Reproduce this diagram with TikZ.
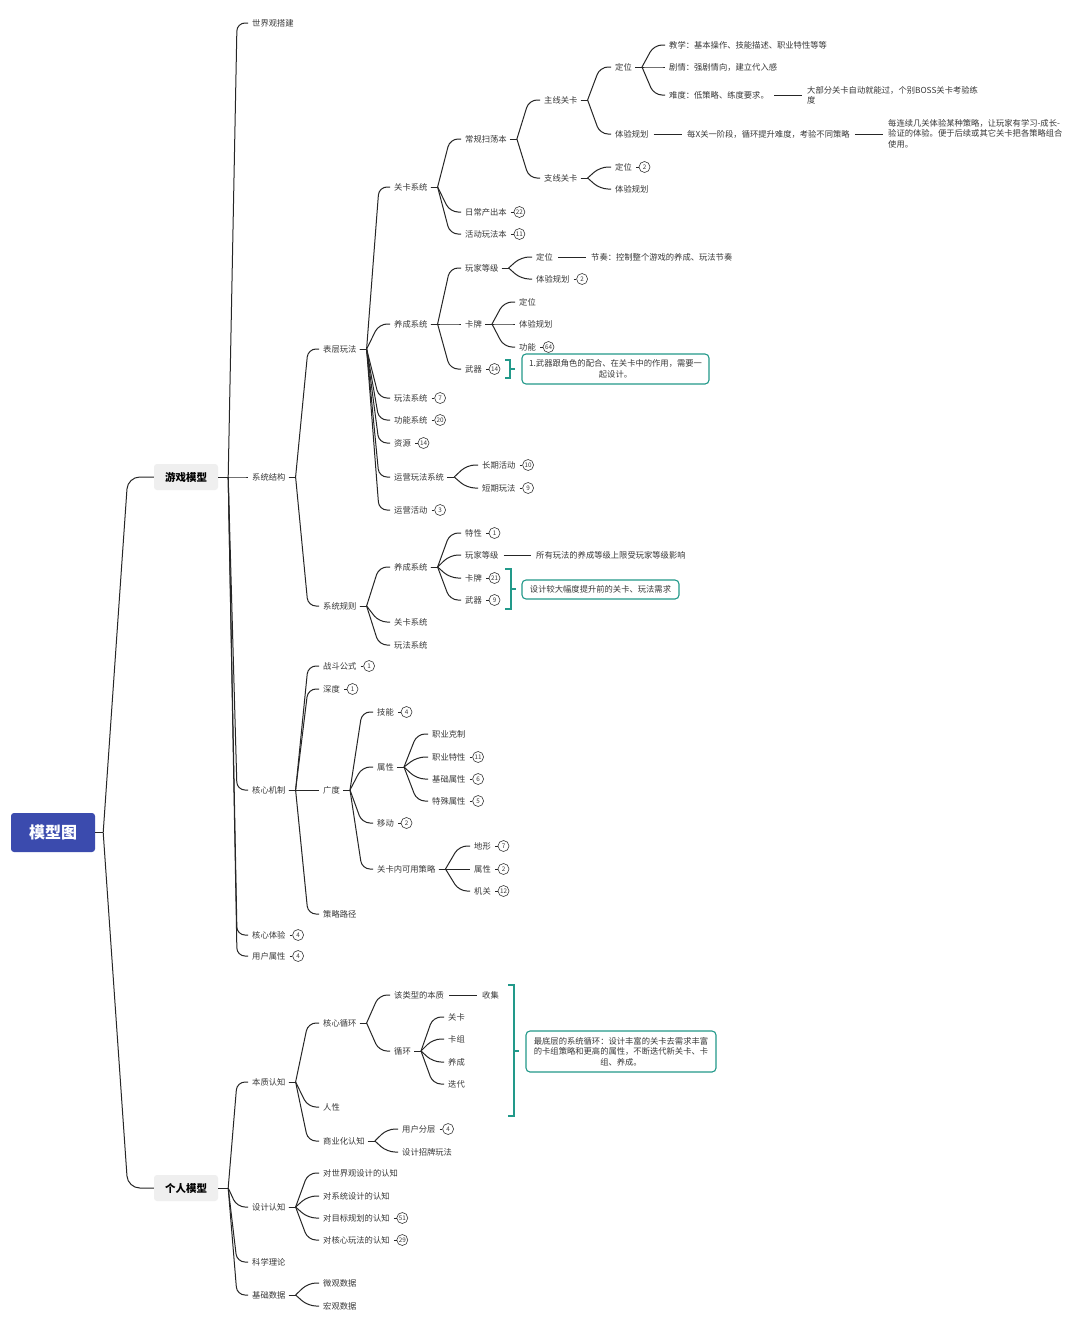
\documentclass[tikz,border=0pt]{standalone}
\usepackage{fontspec}
\setmainfont{Noto Sans CJK SC}
\usetikzlibrary{calc}
\definecolor{rootblue}{HTML}{3B4BAE}
\definecolor{txtc}{HTML}{383838}
\definecolor{linec}{HTML}{262626}
\definecolor{tealc}{HTML}{22998A}
\definecolor{boxgrey}{HTML}{EFEFEF}
\newcommand\mmlink[3][15]{%
 \draw[ln] let \p1=(#2.east) in (\x1+3,\y1) -- (\x1+10,\y1);
 \draw[ln,rounded corners=8] let \p1=(#2.east), \p2=(#3.west) in (\x1+10,\y1) -- (\x2-#1,\y2) -- (\x2-4,\y2);}
\newcommand\mmlinkb[2]{%
 \draw[ln] let \p1=(#1.east) in (\x1,\y1) -- (\x1+10,\y1);
 \draw[ln,rounded corners=8] let \p1=(#1.east), \p2=(#2.west) in (\x1+10,\y1) -- (\x2-15,\y2) -- (\x2-4,\y2);}
\newcommand\mmstr[2]{%
 \draw[ln] let \p1=(#1.east), \p2=(#2.west) in (\x1+5,\y1) -- (\x2-5,\y1);}
\newcommand\mmbadge[2]{%
 \node[bdg] (#1b) at ($(#1.east)+(12.5,0)$) {#2};
 \draw[ln,line width=0.8pt] ($(#1.east)+(4,0)$) -- (#1b.west);}
\begin{document}
\begin{tikzpicture}[x=1pt,y=-1pt,
 tx/.style={anchor=west,inner sep=0pt,text=txtc,font=\fontsize{8.3}{10.5}\selectfont},
 ln/.style={draw=linec,line width=1pt},
 brk/.style={draw=tealc,line width=1.1pt},
 bdg/.style={circle,draw=txtc,line width=0.6pt,minimum size=11pt,inner sep=0pt,fill=white,text=txtc,font=\fontsize{6.3}{7}\selectfont},
 callout/.style={draw=tealc,line width=1.1pt,rounded corners=4,fill=white,align=center,inner sep=2pt,text=txtc,font=\fontsize{8.3}{10.5}\selectfont},
 lvl1/.style={fill=boxgrey,rounded corners=3,minimum width=64pt,minimum height=26pt,inner sep=0pt,font=\bfseries\fontsize{10.5}{12}\selectfont,text=black}]
\fill[white] (0,0) rectangle (1080,1318);
\useasboundingbox (0,0) rectangle (1080,1318);

% root and level 1
\node[fill=rootblue,rounded corners=3,minimum width=84pt,minimum height=39pt,inner sep=0pt,text=white,font=\bfseries\fontsize{16}{18}\selectfont] (root) at (53,832.5) {模型图};
\node[lvl1] (gm) at (186,477) {游戏模型};
\node[lvl1] (pm) at (186,1188) {个人模型};
\draw[ln] (root.east) -- ++(8,0);
\draw[ln,rounded corners=12] let \p1=(root.east), \p2=(gm.west) in (\x1+8,\y1) -- (\x2-26,\y2) -- (\p2);
\draw[ln,rounded corners=12] let \p1=(root.east), \p2=(pm.west) in (\x1+8,\y1) -- (\x2-26,\y2) -- (\p2);

% 游戏模型 children
\node[tx] (a1) at (252,23) {世界观搭建};
\node[tx] (a2) at (252,477) {系统结构};
\node[tx] (a3) at (252,790) {核心机制};
\node[tx] (a4) at (252,935) {核心体验};
\node[tx] (a5) at (252,956) {用户属性};
\foreach \c in {a1,a2,a3,a4,a5} {\mmlinkb{gm}{\c}}
\mmbadge{a4}{4}
\mmbadge{a5}{4}

% 系统结构
\node[tx] (b1) at (323,349) {表层玩法};
\node[tx] (b2) at (323,606) {系统规则};
\mmlink{a2}{b1}
\mmlink{a2}{b2}

% 表层玩法
\node[tx] (c1) at (394,187) {关卡系统};
\node[tx] (c2) at (394,324) {养成系统};
\node[tx] (c3) at (394,398) {玩法系统};
\node[tx] (c4) at (394,420) {功能系统};
\node[tx] (c5) at (394,443) {资源};
\node[tx] (c6) at (394,477) {运营玩法系统};
\node[tx] (c7) at (394,510) {运营活动};
\foreach \c in {c1,c2,c3,c4,c5,c6,c7} {\mmlink{b1}{\c}}
\mmbadge{c3}{7}
\mmbadge{c4}{20}
\mmbadge{c5}{14}
\mmbadge{c7}{3}

% 关卡系统
\node[tx] (d1) at (465,139) {常规扫荡本};
\node[tx] (d2) at (465,212) {日常产出本};
\node[tx] (d3) at (465,234) {活动玩法本};
\foreach \c in {d1,d2,d3} {\mmlink{c1}{\c}}
\mmbadge{d2}{22}
\mmbadge{d3}{11}

\node[tx] (e1) at (544,100) {主线关卡};
\node[tx] (e2) at (544,178) {支线关卡};
\mmlink{d1}{e1}
\mmlink{d1}{e2}

\node[tx] (f1) at (615,67) {定位};
\node[tx] (f2) at (615,134) {体验规划};
\node[tx] (f3) at (615,167) {定位};
\node[tx] (f4) at (615,189) {体验规划};
\mmlink{e1}{f1}
\mmlink{e1}{f2}
\mmlink{e2}{f3}
\mmlink{e2}{f4}
\mmbadge{f3}{2}

\node[tx] (g1) at (669,45) {教学：基本操作、技能描述、职业特性等等};
\node[tx] (g2) at (669,67) {剧情：强剧情向，建立代入感};
\node[tx] (g3) at (669,95) {难度：低策略、练度要求。};
\foreach \c in {g1,g2,g3} {\mmlink{f1}{\c}}
\node[tx,align=left] (g4) at (807,95.5) {大部分关卡自动就能过，个别BOSS关卡考验练\\度};
\mmstr{g3}{g4}
\node[tx] (g5) at (687,134) {每X关一阶段，循环提升难度，考验不同策略};
\node[tx,align=left] (g6) at (888,133.5) {每连续几关体验某种策略，让玩家有学习-成长-\\验证的体验。便于后续或其它关卡把各策略组合\\使用。};
\mmstr{f2}{g5}
\mmstr{g5}{g6}

% 养成系统 (表层)
\node[tx] (h1) at (465,268) {玩家等级};
\node[tx] (h2) at (465,324) {卡牌};
\node[tx] (h3) at (465,369) {武器};
\foreach \c in {h1,h2,h3} {\mmlink{c2}{\c}}
\mmbadge{h3}{14}

\node[tx] (i1) at (536,257) {定位};
\node[tx] (i2) at (591,257) {节奏：控制整个游戏的养成、玩法节奏};
\node[tx] (i3) at (536,279) {体验规划};
\mmlink{h1}{i1}
\mmlink{h1}{i3}
\mmstr{i1}{i2}
\mmbadge{i3}{2}

\node[tx] (i4) at (519,302) {定位};
\node[tx] (i5) at (519,324) {体验规划};
\node[tx] (i6) at (519,347) {功能};
\foreach \c in {i4,i5,i6} {\mmlink{h2}{\c}}
\mmbadge{i6}{64}

\draw[brk] (505,360) -- (510,360) -- (510,378) -- (505,378);
\draw[brk] (510,369) -- (515,369);
\node[callout,minimum width=187pt,minimum height=30pt] (box1) at (615.5,369) {1.武器跟角色的配合、在关卡中的作用，需要一\\起设计。};

% 运营玩法系统
\node[tx] (j1) at (482,465) {长期活动};
\node[tx] (j2) at (482,488) {短期玩法};
\mmlink{c6}{j1}
\mmlink{c6}{j2}
\mmbadge{j1}{10}
\mmbadge{j2}{9}

% 系统规则
\node[tx] (k1) at (394,567) {养成系统};
\node[tx] (k2) at (394,622) {关卡系统};
\node[tx] (k3) at (394,645) {玩法系统};
\foreach \c in {k1,k2,k3} {\mmlink{b2}{\c}}

\node[tx] (l1) at (465,533) {特性};
\node[tx] (l2) at (465,555) {玩家等级};
\node[tx] (l3) at (465,578) {卡牌};
\node[tx] (l4) at (465,600) {武器};
\foreach \c in {l1,l2,l3,l4} {\mmlink{k1}{\c}}
\node[tx] (l5) at (536,555) {所有玩法的养成等级上限受玩家等级影响};
\mmstr{l2}{l5}
\mmbadge{l1}{1}
\mmbadge{l3}{21}
\mmbadge{l4}{9}
\draw[brk] (505,569) -- (511,569) -- (511,609) -- (505,609);
\draw[brk] (511,589) -- (516,589);
\node[callout,minimum width=157pt,minimum height=19pt] (box2) at (600.5,589.5) {设计较大幅度提升前的关卡、玩法需求};

% 核心机制
\node[tx] (m1) at (323,666) {战斗公式};
\node[tx] (m2) at (323,689) {深度};
\node[tx] (m3) at (323,790) {广度};
\node[tx] (m4) at (323,914) {策略路径};
\foreach \c in {m1,m2,m3,m4} {\mmlink{a3}{\c}}
\mmbadge{m1}{1}
\mmbadge{m2}{1}

\node[tx] (n1) at (377,712) {技能};
\node[tx] (n2) at (377,767) {属性};
\node[tx] (n3) at (377,823) {移动};
\node[tx] (n4) at (377,869) {关卡内可用策略};
\foreach \c in {n1,n2,n3,n4} {\mmlink{m3}{\c}}
\mmbadge{n1}{4}
\mmbadge{n3}{2}

\node[tx] (o1) at (432,734) {职业克制};
\node[tx] (o2) at (432,757) {职业特性};
\node[tx] (o3) at (432,779) {基础属性};
\node[tx] (o4) at (432,801) {特殊属性};
\foreach \c in {o1,o2,o3,o4} {\mmlink{n2}{\c}}
\mmbadge{o2}{11}
\mmbadge{o3}{6}
\mmbadge{o4}{5}

\node[tx] (o5) at (474,846) {地形};
\node[tx] (o6) at (474,869) {属性};
\node[tx] (o7) at (474,891) {机关};
\foreach \c in {o5,o6,o7} {\mmlink{n4}{\c}}
\mmbadge{o5}{7}
\mmbadge{o6}{2}
\mmbadge{o7}{12}

% 个人模型
\node[tx] (p1) at (252,1082) {本质认知};
\node[tx] (p2) at (252,1207) {设计认知};
\node[tx] (p3) at (252,1262) {科学理论};
\node[tx] (p4) at (252,1295) {基础数据};
\foreach \c in {p1,p2,p3,p4} {\mmlinkb{pm}{\c}}

\node[tx] (q1) at (323,1023) {核心循环};
\node[tx] (q2) at (323,1107) {人性};
\node[tx] (q3) at (323,1141) {商业化认知};
\foreach \c in {q1,q2,q3} {\mmlink{p1}{\c}}

\node[tx] (r1) at (394,995) {该类型的本质};
\node[tx] (r2) at (394,1051) {循环};
\node[tx] (r3) at (482,995) {收集};
\mmlink{q1}{r1}
\mmlink{q1}{r2}
\mmstr{r1}{r3}

\node[tx] (s1) at (448,1017) {关卡};
\node[tx] (s2) at (448,1039) {卡组};
\node[tx] (s3) at (448,1062) {养成};
\node[tx] (s4) at (448,1084) {迭代};
\foreach \c in {s1,s2,s3,s4} {\mmlink{r2}{\c}}

\draw[brk] (508,985) -- (514,985) -- (514,1116) -- (508,1116);
\draw[brk] (514,1051) -- (519,1051);
\node[callout,minimum width=190pt,minimum height=41pt] (box3) at (621,1051.5) {最底层的系统循环：设计丰富的关卡去需求丰富\\的卡组策略和更高的属性，不断迭代新关卡、卡\\组、养成。};

\node[tx] (t1) at (402,1129) {用户分层};
\node[tx] (t2) at (402,1152) {设计招牌玩法};
\mmlink{q3}{t1}
\mmlink{q3}{t2}
\mmbadge{t1}{4}

\node[tx] (u1) at (323,1173) {对世界观设计的认知};
\node[tx] (u2) at (323,1196) {对系统设计的认知};
\node[tx] (u3) at (323,1218) {对目标规划的认知};
\node[tx] (u4) at (323,1240) {对核心玩法的认知};
\foreach \c in {u1,u2,u3,u4} {\mmlink{p2}{\c}}
\mmbadge{u3}{51}
\mmbadge{u4}{29}

\node[tx] (v1) at (323,1283) {微观数据};
\node[tx] (v2) at (323,1306) {宏观数据};
\mmlink{p4}{v1}
\mmlink{p4}{v2}
\end{tikzpicture}
\end{document}
